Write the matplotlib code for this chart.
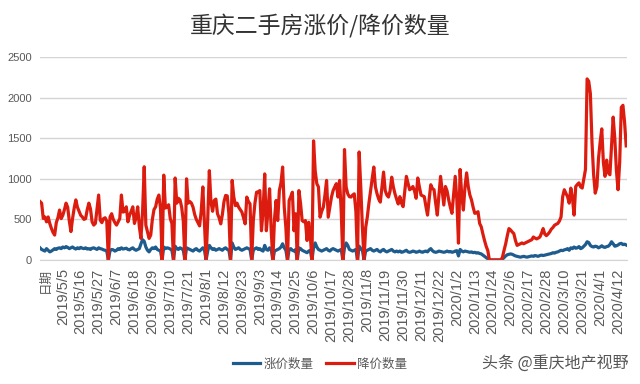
import numpy as np
import matplotlib
matplotlib.use("Agg")
import matplotlib.pyplot as plt

plt.rcParams['font.family'] = ['Liberation Sans', 'Noto Sans CJK SC', 'DejaVu Sans']

# daily counts (one value per category on the x axis)
rise_counts = [
    150, 130, 120, 110, 140, 120, 100, 110, 125, 140,
    130, 145, 150, 140, 160, 150, 165, 155, 140, 150,
    160, 145, 135, 150, 140, 155, 145, 140, 150, 135,
    140, 130, 145, 150, 140, 130, 150, 140, 135, 125,
    120, 110, 0, 115, 130, 125, 110, 120, 140, 130,
    150, 135, 140, 145, 130, 125, 140, 150, 130, 120,
    130, 140, 200, 250, 230, 160, 120, 100, 130, 150,
    140, 160, 130, 120, 110, 0, 160, 140, 150, 145,
    135, 120, 0, 170, 140, 130, 150, 140, 120, 0,
    150, 140, 130, 120, 110, 130, 140, 120, 110, 130,
    150, 120, 0, 110, 180, 150, 130, 140, 120, 130,
    140, 130, 120, 140, 150, 130, 120, 0, 210, 160,
    130, 140, 150, 130, 120, 130, 140, 150, 140, 130,
    0, 120, 140, 150, 130, 140, 120, 110, 180, 130,
    120, 150, 130, 0, 110, 120, 130, 140, 160, 200,
    150, 120, 0, 130, 140, 120, 110, 130, 0, 150,
    140, 120, 110, 100, 90, 110, 120, 0, 150, 210,
    160, 130, 120, 110, 120, 130, 140, 120, 110, 130,
    140, 130, 120, 110, 120, 130, 0, 150, 210, 180,
    130, 120, 110, 120, 130, 0, 170, 140, 120, 0,
    110, 120, 130, 140, 120, 110, 120, 130, 110, 100,
    120, 130, 110, 100, 110, 120, 130, 110, 100, 110,
    100, 110, 95, 100, 110, 120, 100, 95, 100, 110,
    105, 95, 100, 110, 100, 95, 105, 110, 100, 125,
    140, 115, 100, 95, 100, 110, 105, 100, 95, 100,
    110, 100, 105, 95, 100, 110, 115, 50, 130, 110,
    100, 110, 105, 100, 95, 100, 90, 95, 85, 90,
    80, 75, 60, 45, 30, 15, 0, 0, 0, 0,
    0, 0, 0, 0, 10, 30, 50, 65, 70, 75,
    70, 60, 50, 45, 40, 35, 40, 45, 40, 35,
    40, 45, 50, 45, 55, 50, 45, 55, 60, 55,
    60, 65, 70, 75, 80, 90, 85, 95, 100, 110,
    120, 115, 125, 130, 140, 120, 150, 140, 160, 145,
    150, 165, 140, 150, 170, 190, 225, 215, 180, 165,
    160, 170, 165, 150, 160, 175, 160, 155, 165, 170,
    190, 225, 200, 170, 175, 185, 200, 205, 190, 195, 185,
]

cut_counts = [
    720, 700, 512, 530, 470, 530, 450, 390, 340, 307,
    460, 520, 615, 510, 550, 620, 700, 650, 480, 350,
    510, 640, 740, 650, 600, 550, 530, 500, 510, 620,
    700, 630, 470, 430, 450, 620, 800, 490, 460, 510,
    520, 480, 0, 530, 570, 500, 460, 430, 470, 510,
    800, 590, 600, 655, 470, 550, 600, 655, 450, 520,
    655, 410, 266, 600, 1148, 430, 350, 266, 307, 500,
    620, 655, 750, 800, 640, 0, 1045, 640, 650, 680,
    510, 450, 0, 1010, 700, 760, 740, 650, 480, 0,
    1000, 700, 720, 700, 650, 560, 500, 460, 420, 600,
    900, 450, 0, 500, 1100, 713, 600, 733, 750, 570,
    520, 445, 560, 720, 795, 790, 570, 0, 980, 780,
    670, 700, 650, 620, 590, 520, 445, 775, 720, 690,
    0, 486, 700, 835, 840, 855, 360, 600, 1060, 360,
    600, 877, 360, 0, 500, 733, 486, 855, 950, 1145,
    650, 400, 0, 733, 780, 835, 360, 570, 0, 855,
    700, 486, 470, 486, 240, 465, 300, 0, 1467, 1100,
    940, 900, 527, 600, 650, 800, 980, 527, 650, 775,
    855, 900, 940, 775, 980, 600, 0, 1360, 900, 815,
    780, 775, 800, 815, 600, 0, 1330, 900, 400, 0,
    400, 527, 700, 855, 1000, 1145, 900, 815, 750, 713,
    900, 1083, 855, 800, 775, 850, 1020, 900, 815, 750,
    690, 780, 700, 657, 850, 1030, 950, 865, 880, 905,
    850, 760, 1010, 900, 800, 790, 780, 660, 553, 750,
    927, 880, 865, 700, 553, 800, 1030, 850, 677, 905,
    850, 740, 650, 575, 800, 1030, 740, 208, 1115, 800,
    615, 900, 1073, 905, 800, 740, 650, 575, 580, 595,
    450, 408, 320, 240, 170, 116, 0, 0, 0, 0,
    0, 0, 0, 0, 33, 120, 200, 300, 387, 370,
    345, 325, 240, 180, 190, 200, 210, 200, 210, 220,
    230, 240, 250, 283, 270, 260, 270, 283, 330, 387,
    320, 300, 320, 345, 380, 400, 428, 440, 450, 480,
    530, 780, 865, 820, 780, 700, 885, 760, 553, 905,
    930, 950, 900, 886, 1000, 1115, 2230, 2200, 2050, 1450,
    1050, 823, 900, 1250, 1450, 1615, 1200, 1030, 1230, 1073,
    1050, 1400, 1760, 1500, 1100, 865, 1200, 1880, 1905, 1700, 1405,
]

date_labels = [
    "2019/5/5", "2019/5/16", "2019/5/27", "2019/6/7", "2019/6/18", "2019/6/29",
    "2019/7/10", "2019/7/21", "2019/8/1", "2019/8/12", "2019/8/23", "2019/9/3",
    "2019/9/14", "2019/9/25", "2019/10/6", "2019/10/17", "2019/10/28", "2019/11/8",
    "2019/11/19", "2019/11/30", "2019/12/11", "2019/12/22", "2020/1/2", "2020/1/13",
    "2020/1/24", "2020/2/6", "2020/2/17", "2020/2/28", "2020/3/10", "2020/3/21",
    "2020/4/1", "2020/4/12",
]
first_label_idx = 14
label_step = 11

n = min(len(rise_counts), len(cut_counts))
x = np.arange(n)

fig = plt.figure(figsize=(6.4, 3.84), dpi=100)
ax = fig.add_axes([40 / 640, 1 - 260 / 384, 587 / 640, 203 / 384])

grey = '#595959'
ax.plot(x, rise_counts[:n], color='#1f5c8e', lw=2.3, label='涨价数量', solid_joinstyle='round')
ax.plot(x, cut_counts[:n], color='#dd1c10', lw=2.3, label='降价数量', solid_joinstyle='round')

ax.set_xlim(0, n - 0.5)
ax.set_ylim(0, 2500)
ax.set_yticks(np.arange(0, 2501, 500))
ax.yaxis.grid(True, color='#d4d4d4', lw=1)
ax.set_axisbelow(True)
for s in ['top', 'right', 'left']:
    ax.spines[s].set_visible(False)
ax.spines['bottom'].set_color('#d4d4d4')
ax.tick_params(axis='y', length=0, pad=6, labelsize=8, labelcolor=grey)

tick_pos = [first_label_idx + label_step * k for k in range(len(date_labels))]
ax.set_xticks(tick_pos)
ax.set_xticklabels(date_labels, rotation=90, fontsize=10.5, color=grey)
ax.tick_params(axis='x', length=0, pad=6)
ax.text(3.5, -0.04, '日期', transform=ax.get_xaxis_transform(), rotation=90,
        ha='center', va='top', fontsize=9, color=grey)

fig.text(0.5, 0.93, '重庆二手房涨价/降价数量', ha='center', va='center',
         fontsize=16.5, color='#333333', family=['Noto Sans CJK SC'])

fig.legend(loc='center', bbox_to_anchor=(0.5, 0.052), ncol=2, frameon=False,
           handlelength=2.2, columnspacing=1.0, handletextpad=0.3, labelcolor=grey,
           prop={'family': ['Noto Sans CJK SC'], 'size': 9})

fig.text(0.982, 0.055, '头条 @重庆地产视野', ha='right', va='center',
         fontsize=11.5, color='#555555', family=['Noto Sans CJK SC'])

fig.savefig('out.png', dpi=100)
